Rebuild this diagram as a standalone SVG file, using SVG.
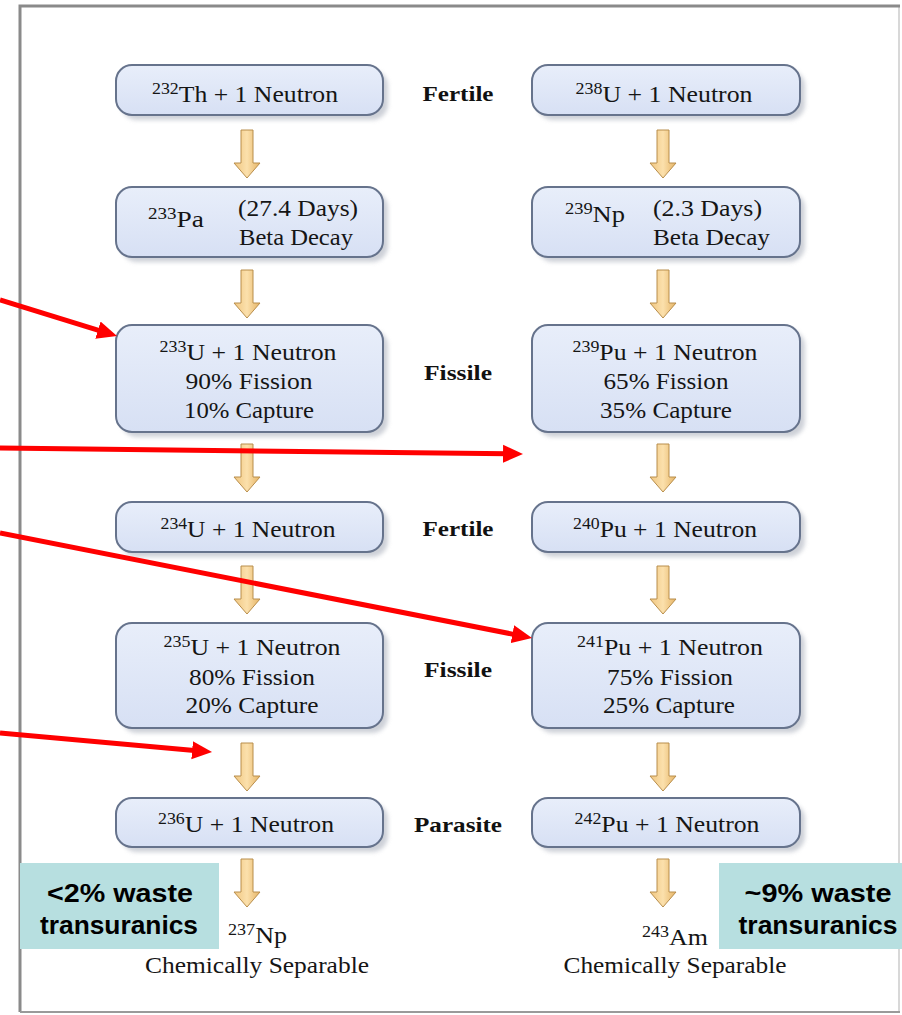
<svg xmlns="http://www.w3.org/2000/svg" width="902" height="1015" viewBox="0 0 902 1015">
<style>
.box{fill:url(#boxg);stroke:#66738c;stroke-width:2}
.shadow{fill:#b9bec8;opacity:0.7}
.t{font-family:"Liberation Serif","Times New Roman",serif;font-size:23px;fill:#151515}
.sup{font-size:16px}
.lbl{font-family:"Liberation Serif","Times New Roman",serif;font-size:22px;font-weight:bold;fill:#111;text-anchor:middle}
.tl{font-family:"Liberation Sans",Arial,sans-serif;font-size:25px;font-weight:bold;fill:#000;text-anchor:middle}
.red{stroke:#ff0000;stroke-width:5;fill:none}
.mid{text-anchor:middle}
</style>
<defs>
<linearGradient id="boxg" x1="0" y1="0" x2="0" y2="1">
<stop offset="0" stop-color="#e8eefa"/>
<stop offset="1" stop-color="#d7e0f4"/>
</linearGradient>
<linearGradient id="arrg" x1="0" y1="0" x2="1" y2="0">
<stop offset="0" stop-color="#f0c680"/>
<stop offset="0.5" stop-color="#fbe0ac"/>
<stop offset="1" stop-color="#e6b465"/>
</linearGradient>
<filter id="blur" x="-10%" y="-10%" width="120%" height="130%"><feGaussianBlur stdDeviation="2"/></filter>
<path id="yarr" d="M-6,0 L6,0 L6,33 L13,33 L0,48 L-13,33 L-6,33 Z" fill="url(#arrg)" stroke="#b88e4c" stroke-width="1"/>
<marker id="rh" markerUnits="userSpaceOnUse" markerWidth="20" markerHeight="20" viewBox="0 0 20 20" refX="5" refY="10" orient="auto">
<path d="M0,1 L20,10 L0,19 Z" fill="#ff0000"/>
</marker>
</defs>
<rect x="0" y="0" width="902" height="1015" fill="#ffffff"/>
<g id="frame">
<line x1="899" y1="6" x2="899" y2="1012" stroke="#d8d8d8" stroke-width="2"/>
<path d="M20,1012 L20,6 L900,6" fill="none" stroke="#8a8a8a" stroke-width="3"/>
<line x1="20" y1="1012" x2="900" y2="1012" stroke="#9a9a9a" stroke-width="2"/>
</g>

<g id="flow-arrows">
<use href="#yarr" x="247" y="130"/>
<use href="#yarr" x="247" y="270"/>
<use href="#yarr" x="247" y="444"/>
<use href="#yarr" x="247" y="566"/>
<use href="#yarr" x="247" y="743"/>
<use href="#yarr" x="247" y="859"/>
<use href="#yarr" x="663" y="130"/>
<use href="#yarr" x="663" y="270"/>
<use href="#yarr" x="663" y="444"/>
<use href="#yarr" x="663" y="566"/>
<use href="#yarr" x="663" y="743"/>
<use href="#yarr" x="663" y="859"/>
</g>

<g id="n-th232">
<rect class="shadow" x="121" y="70" width="267" height="50" rx="16" filter="url(#blur)"/>
<rect class="box" x="116" y="65" width="267" height="50" rx="16"/>
<text class="t mid" x="245" y="102" textLength="186" lengthAdjust="spacingAndGlyphs"><tspan class="sup" dy="-8">232</tspan><tspan dy="8">Th + 1 Neutron</tspan></text>
</g>
<g id="n-u238">
<rect class="shadow" x="537" y="70" width="268" height="50" rx="16" filter="url(#blur)"/>
<rect class="box" x="532" y="65" width="268" height="50" rx="16"/>
<text class="t mid" x="664" y="102" textLength="177" lengthAdjust="spacingAndGlyphs"><tspan class="sup" dy="-8">238</tspan><tspan dy="8">U + 1 Neutron</tspan></text>
</g>
<g id="n-pa233">
<rect class="shadow" x="121" y="192" width="267" height="70" rx="16" filter="url(#blur)"/>
<rect class="box" x="116" y="187" width="267" height="70" rx="16"/>
<text class="t" x="148" y="227" textLength="56" lengthAdjust="spacingAndGlyphs"><tspan class="sup" dy="-8">233</tspan><tspan dy="8">Pa</tspan></text>
<text class="t" x="238" y="216" textLength="120" lengthAdjust="spacingAndGlyphs">(27.4 Days)</text>
<text class="t" x="239" y="245" textLength="114" lengthAdjust="spacingAndGlyphs">Beta Decay</text>
</g>
<g id="n-np239">
<rect class="shadow" x="537" y="192" width="268" height="70" rx="16" filter="url(#blur)"/>
<rect class="box" x="532" y="187" width="268" height="70" rx="16"/>
<text class="t" x="565" y="222" textLength="60" lengthAdjust="spacingAndGlyphs"><tspan class="sup" dy="-8">239</tspan><tspan dy="8">Np</tspan></text>
<text class="t" x="653" y="216" textLength="109" lengthAdjust="spacingAndGlyphs">(2.3 Days)</text>
<text class="t" x="653" y="245" textLength="117" lengthAdjust="spacingAndGlyphs">Beta Decay</text>
</g>
<g id="n-u233">
<rect class="shadow" x="121" y="330" width="267" height="107" rx="16" filter="url(#blur)"/>
<rect class="box" x="116" y="325" width="267" height="107" rx="16"/>
<text class="t mid" x="248" y="360" textLength="177" lengthAdjust="spacingAndGlyphs"><tspan class="sup" dy="-8">233</tspan><tspan dy="8">U + 1 Neutron</tspan></text>
<text class="t mid" x="249" y="389" textLength="127" lengthAdjust="spacingAndGlyphs">90% Fission</text>
<text class="t mid" x="249" y="418" textLength="130" lengthAdjust="spacingAndGlyphs">10% Capture</text>
</g>
<g id="n-pu239">
<rect class="shadow" x="537" y="330" width="268" height="107" rx="16" filter="url(#blur)"/>
<rect class="box" x="532" y="325" width="268" height="107" rx="16"/>
<text class="t mid" x="665" y="360" textLength="185" lengthAdjust="spacingAndGlyphs"><tspan class="sup" dy="-8">239</tspan><tspan dy="8">Pu + 1 Neutron</tspan></text>
<text class="t mid" x="666" y="389" textLength="125" lengthAdjust="spacingAndGlyphs">65% Fission</text>
<text class="t mid" x="666" y="418" textLength="132" lengthAdjust="spacingAndGlyphs">35% Capture</text>
</g>
<g id="n-u234">
<rect class="shadow" x="121" y="507" width="267" height="50" rx="16" filter="url(#blur)"/>
<rect class="box" x="116" y="502" width="267" height="50" rx="16"/>
<text class="t mid" x="248" y="537" textLength="175" lengthAdjust="spacingAndGlyphs"><tspan class="sup" dy="-8">234</tspan><tspan dy="8">U + 1 Neutron</tspan></text>
</g>
<g id="n-pu240">
<rect class="shadow" x="537" y="507" width="268" height="50" rx="16" filter="url(#blur)"/>
<rect class="box" x="532" y="502" width="268" height="50" rx="16"/>
<text class="t mid" x="665" y="537" textLength="184" lengthAdjust="spacingAndGlyphs"><tspan class="sup" dy="-8">240</tspan><tspan dy="8">Pu + 1 Neutron</tspan></text>
</g>
<g id="n-u235">
<rect class="shadow" x="121" y="628" width="267" height="105" rx="16" filter="url(#blur)"/>
<rect class="box" x="116" y="623" width="267" height="105" rx="16"/>
<text class="t mid" x="252" y="655" textLength="177" lengthAdjust="spacingAndGlyphs"><tspan class="sup" dy="-8">235</tspan><tspan dy="8">U + 1 Neutron</tspan></text>
<text class="t mid" x="252" y="685" textLength="126" lengthAdjust="spacingAndGlyphs">80% Fission</text>
<text class="t mid" x="252" y="713" textLength="133" lengthAdjust="spacingAndGlyphs">20% Capture</text>
</g>
<g id="n-pu241">
<rect class="shadow" x="537" y="628" width="268" height="105" rx="16" filter="url(#blur)"/>
<rect class="box" x="532" y="623" width="268" height="105" rx="16"/>
<text class="t mid" x="670" y="655" textLength="186" lengthAdjust="spacingAndGlyphs"><tspan class="sup" dy="-8">241</tspan><tspan dy="8">Pu + 1 Neutron</tspan></text>
<text class="t mid" x="670" y="685" textLength="126" lengthAdjust="spacingAndGlyphs">75% Fission</text>
<text class="t mid" x="669" y="713" textLength="132" lengthAdjust="spacingAndGlyphs">25% Capture</text>
</g>
<g id="n-u236">
<rect class="shadow" x="121" y="803" width="267" height="49" rx="16" filter="url(#blur)"/>
<rect class="box" x="116" y="798" width="267" height="49" rx="16"/>
<text class="t mid" x="246" y="832" textLength="176" lengthAdjust="spacingAndGlyphs"><tspan class="sup" dy="-8">236</tspan><tspan dy="8">U + 1 Neutron</tspan></text>
</g>
<g id="n-pu242">
<rect class="shadow" x="537" y="803" width="268" height="49" rx="16" filter="url(#blur)"/>
<rect class="box" x="532" y="798" width="268" height="49" rx="16"/>
<text class="t mid" x="667" y="832" textLength="185" lengthAdjust="spacingAndGlyphs"><tspan class="sup" dy="-8">242</tspan><tspan dy="8">Pu + 1 Neutron</tspan></text>
</g>

<g id="labels">
<text class="lbl" x="458" y="101" textLength="71" lengthAdjust="spacingAndGlyphs">Fertile</text>
<text class="lbl" x="458" y="380" textLength="68" lengthAdjust="spacingAndGlyphs">Fissile</text>
<text class="lbl" x="458" y="536" textLength="71" lengthAdjust="spacingAndGlyphs">Fertile</text>
<text class="lbl" x="458" y="677" textLength="68" lengthAdjust="spacingAndGlyphs">Fissile</text>
<text class="lbl" x="458" y="832" textLength="88" lengthAdjust="spacingAndGlyphs">Parasite</text>
</g>

<g id="n-np237">
<text class="t" x="228" y="943" textLength="59" lengthAdjust="spacingAndGlyphs"><tspan class="sup" dy="-8">237</tspan><tspan dy="8">Np</tspan></text>
<text class="t mid" x="257" y="973" textLength="224" lengthAdjust="spacingAndGlyphs">Chemically Separable</text>
</g>
<g id="n-am243">
<text class="t" x="642" y="945" textLength="66" lengthAdjust="spacingAndGlyphs"><tspan class="sup" dy="-8">243</tspan><tspan dy="8">Am</tspan></text>
<text class="t mid" x="675" y="973" textLength="223" lengthAdjust="spacingAndGlyphs">Chemically Separable</text>
</g>

<g id="waste-left">
<rect x="20" y="863" width="199" height="86" fill="#b7dfe0"/>
<text class="tl" x="120" y="902" textLength="146" lengthAdjust="spacingAndGlyphs">&lt;2% waste</text>
<text class="tl" x="119" y="934" textLength="158" lengthAdjust="spacingAndGlyphs">transuranics</text>
</g>
<g id="waste-right">
<rect x="719" y="863" width="183" height="86" fill="#b7dfe0"/>
<text class="tl" x="818" y="902" textLength="147" lengthAdjust="spacingAndGlyphs">~9% waste</text>
<text class="tl" x="818" y="934" textLength="159" lengthAdjust="spacingAndGlyphs">transuranics</text>
</g>

<g id="connectors">
<line class="red" x1="0" y1="300" x2="102.7" y2="331.6" marker-end="url(#rh)"/>
<line class="red" x1="0" y1="448" x2="508" y2="453.8" marker-end="url(#rh)"/>
<line class="red" x1="0" y1="533" x2="517.3" y2="635.1" marker-end="url(#rh)"/>
<line class="red" x1="0" y1="733" x2="197.1" y2="750.7" marker-end="url(#rh)"/>
</g>
</svg>
